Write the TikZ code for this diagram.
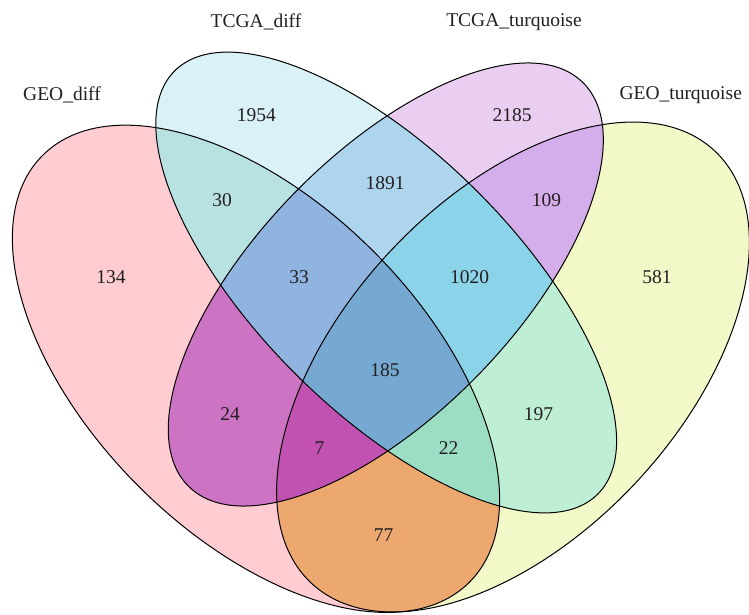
\documentclass[tikz,border=0pt]{standalone}
\usepackage{fontspec}
\setmainfont{Liberation Serif}
\definecolor{cA}{HTML}{FFCCD2}
\definecolor{cB}{HTML}{DAF1F8}
\definecolor{cC}{HTML}{EACEF2}
\definecolor{cD}{HTML}{F2F8C8}
\definecolor{cAB}{HTML}{B8E2E2}
\definecolor{cBC}{HTML}{AED5EE}
\definecolor{cCD}{HTML}{D4AEEA}
\definecolor{cAC}{HTML}{CC73C4}
\definecolor{cBD}{HTML}{BEEFD5}
\definecolor{cAD}{HTML}{EDA870}
\definecolor{cABC}{HTML}{8FB4E0}
\definecolor{cBCD}{HTML}{8BD3E8}
\definecolor{cACD}{HTML}{C252B2}
\definecolor{cABD}{HTML}{9CDEC4}
\definecolor{cABCD}{HTML}{76A9D2}
\definecolor{txt}{HTML}{231F20}
\newcommand\ellA{(256,245.2) ellipse [x radius=301.8, y radius=166.1, rotate=-45]}
\newcommand\ellB{(386.2,331.5) ellipse [x radius=299.2, y radius=128.8, rotate=-45]}
\newcommand\ellC{(385.8,329.5) ellipse [x radius=282.2, y radius=129.3, rotate=45.8]}
\newcommand\ellD{(513,247) ellipse [x radius=295.6, y radius=168.7, rotate=47]}
\tikzset{
  num/.style={anchor=base, text=txt, inner sep=0pt, font=\fontsize{19.5}{20}\selectfont},
  setlabel/.style={anchor=base, text=txt, inner sep=0pt, font=\fontsize{19.5}{20}\selectfont},
  outline/.style={draw=black, line width=1pt}
}
\begin{document}
\begin{tikzpicture}[x=1pt,y=1pt]
\useasboundingbox (0,0) rectangle (749,614);
\clip (0,0) rectangle (749,614);
\fill[white] (0,0) rectangle (749,614);
% single sets
\fill[cA] \ellA;
\fill[cB] \ellB;
\fill[cC] \ellC;
\fill[cD] \ellD;
% pairs
\begin{scope}\clip \ellA; \fill[cAB] \ellB; \end{scope}
\begin{scope}\clip \ellB; \fill[cBC] \ellC; \end{scope}
\begin{scope}\clip \ellC; \fill[cCD] \ellD; \end{scope}
\begin{scope}\clip \ellA; \fill[cAC] \ellC; \end{scope}
\begin{scope}\clip \ellB; \fill[cBD] \ellD; \end{scope}
\begin{scope}\clip \ellA; \fill[cAD] \ellD; \end{scope}
% triples
\begin{scope}\clip \ellA; \clip \ellB; \fill[cABC] \ellC; \end{scope}
\begin{scope}\clip \ellB; \clip \ellC; \fill[cBCD] \ellD; \end{scope}
\begin{scope}\clip \ellA; \clip \ellC; \fill[cACD] \ellD; \end{scope}
\begin{scope}\clip \ellA; \clip \ellB; \fill[cABD] \ellD; \end{scope}
% all four
\begin{scope}\clip \ellA; \clip \ellB; \clip \ellC; \fill[cABCD] \ellD; \end{scope}
% outlines
\draw[outline] \ellA;
\draw[outline] \ellB;
\draw[outline] \ellC;
\draw[outline] \ellD;
% set labels
\node[setlabel] (labA) at (62,513.3) {GEO\_diff};
\node[setlabel] (labB) at (256,586.7) {TCGA\_diff};
\node[setlabel] (labC) at (514,587.3) {TCGA\_turquoise};
\node[setlabel] (labD) at (680.7,514) {GEO\_turquoise};
% counts
\node[num] (nB) at (256.3,492.3) {1954};
\node[num] (nC) at (512,492.3) {2185};
\node[num] (nAB) at (222,407) {30};
\node[num] (nBC) at (385,424) {1891};
\node[num] (nCD) at (546.5,407) {109};
\node[num] (nA) at (111,330.7) {134};
\node[num] (nABC) at (299,330.7) {33};
\node[num] (nBCD) at (469.5,330.7) {1020};
\node[num] (nD) at (657,330.7) {581};
\node[num] (nABCD) at (385,237.3) {185};
\node[num] (nAC) at (230,193.3) {24};
\node[num] (nBD) at (538.5,193.3) {197};
\node[num] (nACD) at (319.5,159.3) {7};
\node[num] (nABD) at (448.7,159.3) {22};
\node[num] (nAD) at (383.5,73) {77};
\end{tikzpicture}
\end{document}
